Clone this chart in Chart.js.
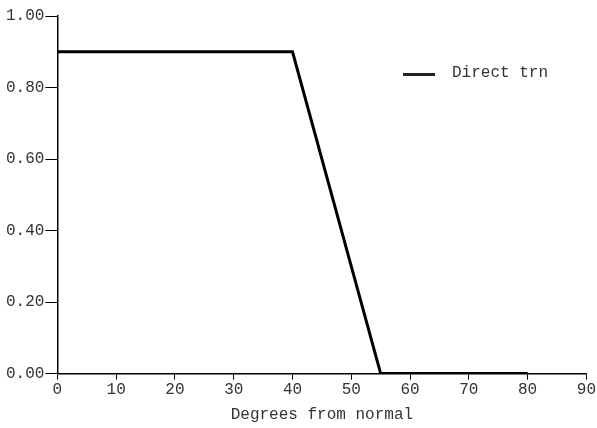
<!DOCTYPE html>
<html>
<head>
<meta charset="utf-8">
<script src="https://cdn.jsdelivr.net/npm/chart.js"></script>
<style>
  html,body{margin:0;padding:0;background:#fff;}
  #wrap{position:relative;width:597px;height:428px;}
  #legend{position:absolute;left:403px;top:64px;font:16px "Liberation Mono",monospace;color:#333;display:flex;align-items:center;}
  #legend .sw{width:32px;height:3px;background:#222;margin-right:17px;margin-top:3px;}
</style>
</head>
<body>
<div id="wrap">
  <canvas id="c" width="597" height="428"></canvas>
  <div id="legend"><span class="sw"></span><span>Direct trn</span></div>
</div>
<script>
// Direct transmission vs angle
const seriesName = 'Direct trn';
const angles = [0, 40, 55, 80];
const directTrn = [0.9, 0.9, 0.0, 0.0];
const xTicks = [0, 10, 20, 30, 40, 50, 60, 70, 80, 90];
const yTicks = [0, 0.2, 0.4, 0.6, 0.8, 1.0];

const font = {family:'"Liberation Mono", monospace', size:16};

new Chart(document.getElementById('c'), {
  type:'line',
  data:{datasets:[{
    label:seriesName,
    data:angles.map((a,i)=>({x:a, y:directTrn[i]})),
    borderColor:'#000', borderWidth:3, pointRadius:0, tension:0, fill:false
  }]},
  options:{
    responsive:false, animation:false,
    layout:{padding:{left:5, right:10, top:16, bottom:4}},
    plugins:{legend:{display:false}, tooltip:{enabled:false}},
    scales:{
      x:{type:'linear', min:0, max:90,
        afterBuildTicks:ax=>{ax.ticks = xTicks.map(v=>({value:v}));},
        grid:{drawOnChartArea:false, drawTicks:true, tickLength:6, color:'#000'},
        border:{color:'#000', width:1.5},
        ticks:{font, color:'#333', padding:1, maxRotation:0},
        title:{display:true, text:'Degrees from normal', font, color:'#333', padding:{top:4, bottom:0}}
      },
      y:{type:'linear', min:0, max:1,
        afterBuildTicks:ax=>{ax.ticks = yTicks.map(v=>({value:v}));},
        grid:{drawOnChartArea:false, drawTicks:true, tickLength:12, color:'#000'},
        border:{color:'#000', width:1.5},
        ticks:{font, color:'#333', padding:1, callback:v=>v.toFixed(2)}
      }
    }
  }
});
</script>
</body>
</html>
